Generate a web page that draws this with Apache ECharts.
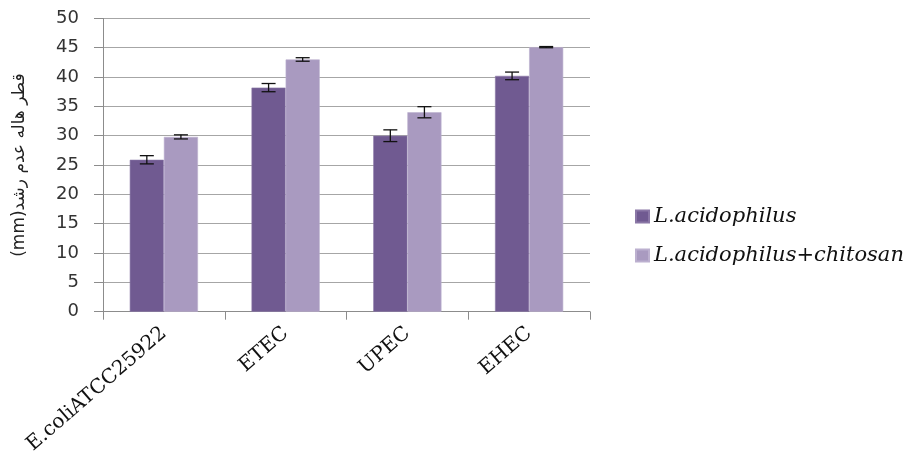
<!DOCTYPE html>
<html>
<head>
<meta charset="utf-8">
<script src="https://cdn.jsdelivr.net/npm/echarts@6/dist/echarts.min.js"></script>
<style>
  html, body { margin: 0; padding: 0; background: #ffffff; }
  #chart { width: 906px; height: 461px; }
</style>
</head>
<body>
<div id="chart"></div>
<script>
// Inhibition-zone diameter (mm) per E. coli strain
const categories = ['E.coliATCC25922', 'ETEC', 'UPEC', 'EHEC'];
const seriesNames = ['L.acidophilus', 'L.acidophilus+chitosan'];
const acidophilus = [25.9, 38.2, 30.0, 40.2];
const acidophilusErr = [0.7, 0.7, 1.0, 0.65];
const chitosan = [29.8, 43.0, 34.0, 45.1];
const chitosanErr = [0.35, 0.3, 0.95, 0.1];
const yTicks = [0, 5, 10, 15, 20, 25, 30, 35, 40, 45, 50];
const yTitle = '\u202Bقطر هاله عدم رشد(mm)\u202C';

const colors = ['#705A91', '#A99AC0'];
const CAT_GAP = 0.44; // share of each category band left empty

function errorData(values, errs) {
  return values.map((v, i) => [i, v - errs[i], v + errs[i]]);
}

function errorBars(seriesIndexInGroup) {
  return function (params, api) {
    const idx = api.value(0);
    const lo = api.coord([idx, api.value(1)]);
    const hi = api.coord([idx, api.value(2)]);
    const band = api.size([1, 0])[0];
    const barW = band * (1 - CAT_GAP) / 2;
    const x = lo[0] + (seriesIndexInGroup === 0 ? -0.5 : 0.5) * barW;
    const cap = 7;
    const style = { stroke: '#111111', lineWidth: 1.3 };
    return {
      type: 'group',
      children: [
        { type: 'line', shape: { x1: x, y1: lo[1], x2: x, y2: hi[1] }, style },
        { type: 'line', shape: { x1: x - cap, y1: lo[1], x2: x + cap, y2: lo[1] }, style },
        { type: 'line', shape: { x1: x - cap, y1: hi[1], x2: x + cap, y2: hi[1] }, style }
      ]
    };
  };
}

const chart = echarts.init(document.getElementById('chart'), null, { renderer: 'canvas' });

chart.setOption({
  animation: false,
  backgroundColor: '#ffffff',
  color: colors,
  grid: { left: 103, right: 316, top: 18.4, bottom: 149.3, containLabel: false },
  legend: {
    orient: 'vertical',
    left: 630,
    top: 201,
    itemWidth: 13,
    itemHeight: 12,
    itemGap: 18,
    itemTextGap: 6,
    icon: 'rect',
    data: seriesNames,
    textStyle: {
      fontFamily: '"DejaVu Serif", "Liberation Serif", serif',
      fontStyle: 'italic',
      fontSize: 21,
      lineHeight: 21,
      color: '#111111'
    }
  },
  xAxis: {
    type: 'category',
    data: categories,
    axisLine: { lineStyle: { color: '#8c8c8c', width: 1 } },
    axisTick: { show: true, length: 8, lineStyle: { color: '#8c8c8c' } },
    axisLabel: {
      rotate: 41,
      margin: 19,
      interval: 0,
      fontFamily: '"DejaVu Serif", "Liberation Serif", serif',
      fontSize: 20,
      color: '#111111'
    },
    splitLine: { show: false }
  },
  yAxis: {
    type: 'value',
    min: yTicks[0],
    max: yTicks[yTicks.length - 1],
    interval: yTicks[1] - yTicks[0],
    name: yTitle,
    nameLocation: 'middle',
    nameRotate: 90,
    nameGap: 75,
    nameTextStyle: {
      fontFamily: '"DejaVu Sans", "Noto Sans", sans-serif',
      fontSize: 17,
      color: '#222222'
    },
    axisLine: { show: true, lineStyle: { color: '#8c8c8c', width: 1 } },
    axisTick: { show: true, length: 9, lineStyle: { color: '#8c8c8c' } },
    axisLabel: {
      margin: 24,
      fontFamily: '"DejaVu Sans", "Open Sans", sans-serif',
      fontSize: 18,
      color: '#333333',
      formatter: v => String(v)
    },
    splitLine: { show: true, lineStyle: { color: '#a6a6a6', width: 1 } }
  },
  series: [
    {
      name: seriesNames[0],
      type: 'bar',
      data: acidophilus,
      barGap: '0%',
      barCategoryGap: (CAT_GAP * 100) + '%',
      itemStyle: { color: colors[0], borderColor: '#8a77a6', borderWidth: 0.6 },
      z: 2
    },
    {
      name: seriesNames[1],
      type: 'bar',
      data: chitosan,
      barGap: '0%',
      barCategoryGap: (CAT_GAP * 100) + '%',
      itemStyle: { color: colors[1], borderColor: '#bcb0cf', borderWidth: 0.6 },
      z: 2
    },
    {
      type: 'custom',
      name: 'err-acidophilus',
      renderItem: errorBars(0),
      data: errorData(acidophilus, acidophilusErr),
      encode: { x: 0, y: [1, 2] },
      z: 5,
      silent: true
    },
    {
      type: 'custom',
      name: 'err-chitosan',
      renderItem: errorBars(1),
      data: errorData(chitosan, chitosanErr),
      encode: { x: 0, y: [1, 2] },
      z: 5,
      silent: true
    }
  ]
});
</script>
</body>
</html>
